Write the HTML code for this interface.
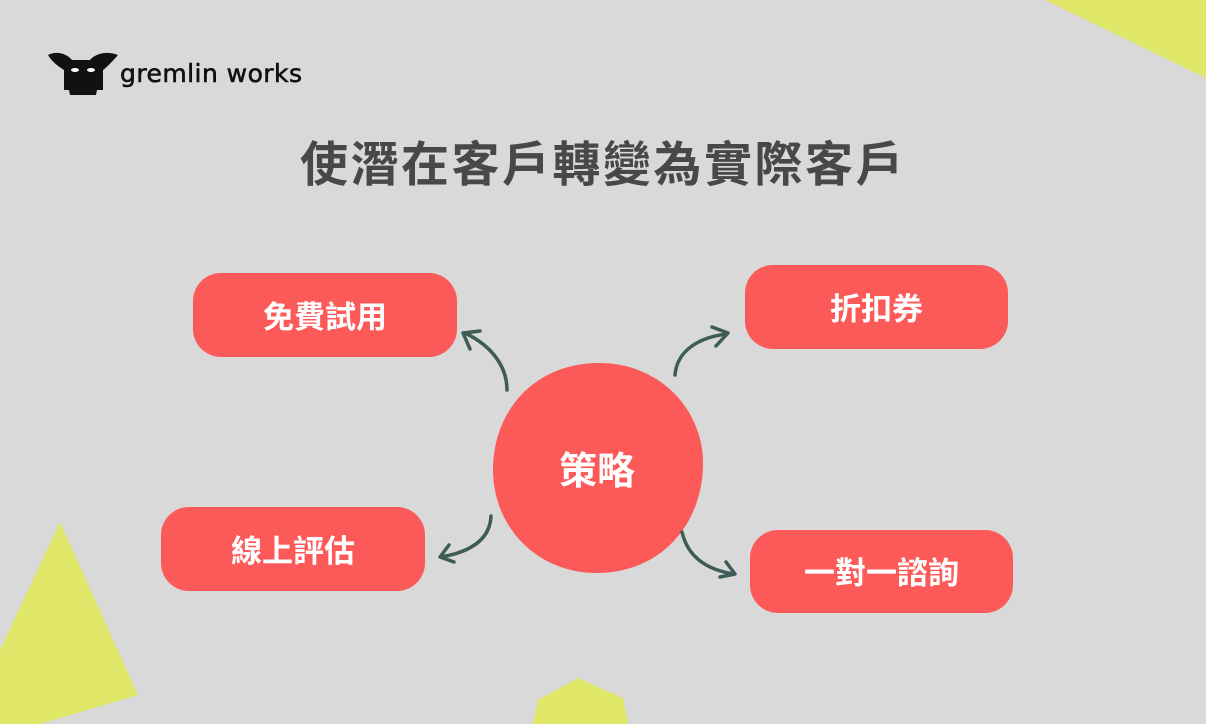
<!DOCTYPE html>
<html><head><meta charset="utf-8"><style>
body{margin:0;width:1206px;height:724px;overflow:hidden;background:#d9d9d9;position:relative;font-family:"Liberation Sans","Noto Sans CJK TC",sans-serif}
.b{position:absolute;background:#fc5959;border-radius:28px;color:#fff;font-weight:bold;font-size:31px;display:flex;align-items:center;justify-content:center;padding-bottom:2px;box-sizing:border-box}
.t{position:absolute;left:0;width:1206px;top:125px;text-align:center;font-size:48px;font-weight:bold;color:#484848;letter-spacing:2.5px}
</style></head><body>
<svg width="1206" height="724" style="position:absolute;left:0;top:0">
<polygon points="1045,0 1206,0 1206,78" fill="#e0e667"/>
<polygon points="60,522 138,695 40,724 0,724 0,650" fill="#e0e667"/>
<polygon points="533,724 538,700 578,678 623,698 628,724" fill="#e0e667"/>
<path d="M597,363 C660,362 703,410 703,463 C703,525 660,573 597,573 C535,573 493,525 493,470 C493,410 535,364 597,363Z" fill="#fc5959"/>
<g fill="none" stroke="#3d5c55" stroke-width="3.5" stroke-linecap="round" stroke-linejoin="round">
<path d="M507,390 C507,365 490,345 465,333"/><path d="M470,349 L463,333 L480,331"/>
<path d="M675,375 C677,350 700,337 727,334"/><path d="M712,327 L728,333 L716,346"/>
<path d="M491,516 C490,540 470,552 441,557"/><path d="M449,545 L440,557 L454,562"/>
<path d="M682,532 C688,558 708,570 734,574"/><path d="M726,562 L735,574 L720,577"/>
</g>
<g fill="#111">
<path d="M48,55 C58,50 68,55 72,60 L90,60 C94,55 105,50 118,55 C112,62 106,68 103,70 L103,90 L97,90 L96,95 L70,95 L69,90 L64,90 L64,70 C58,66 52,62 48,55Z"/>
</g>
<g fill="#fff"><ellipse cx="75" cy="70" rx="4" ry="2"/><ellipse cx="91" cy="70" rx="4" ry="2"/></g>
<text x="120" y="82" font-family="DejaVu Sans,sans-serif" font-size="25" fill="#111" stroke="#111" stroke-width="0.6" textLength="182">gremlin works</text>
</svg>
<div class="t">使潛在客戶轉變為實際客戶</div>
<div class="b" style="left:193px;top:273px;width:264px;height:84px">免費試用</div>
<div class="b" style="left:745px;top:265px;width:263px;height:84px">折扣券</div>
<div class="b" style="left:161px;top:507px;width:264px;height:84px">線上評估</div>
<div class="b" style="left:750px;top:530px;width:263px;height:83px">一對一諮詢</div>
<div class="b" style="left:497px;top:420px;width:200px;height:96px;background:none;font-size:38px">策略</div>
</body></html>
